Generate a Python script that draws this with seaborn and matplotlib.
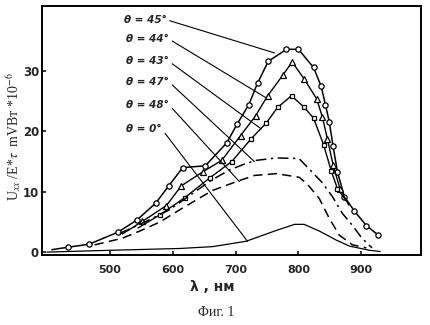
import matplotlib
matplotlib.use('Agg')
import matplotlib.pyplot as plt
import seaborn as sns

# ---------------- data ----------------
wl_45 = [408, 433, 467, 513, 543, 573, 594, 616, 652, 686, 703, 721, 735, 752,
         781, 800, 824, 836, 843, 849, 855, 862, 873, 889, 908, 927]
u_45 = [0.4, 0.8, 1.3, 3.3, 5.3, 8.1, 11.0, 14.0, 14.3, 18.1, 21.3, 24.4, 28.0, 31.6,
        33.6, 33.6, 30.6, 27.5, 24.4, 21.6, 17.6, 13.3, 9.2, 6.8, 4.4, 2.8]

wl_44 = [520, 552, 590, 614, 648, 678, 708, 732, 751, 775, 790, 809, 829, 838,
         846, 855, 866, 880]
u_44 = [3.0, 5.1, 7.7, 11.0, 13.3, 15.2, 19.3, 22.6, 25.9, 29.3, 31.5, 28.7, 25.4, 22.4,
        18.8, 14.5, 10.5, 7.8]

wl_43 = [545, 580, 619, 659, 694, 725, 749, 767, 789, 809, 824, 840, 852, 862, 876]
u_43 = [4.0, 6.2, 9.0, 12.3, 15.0, 18.8, 21.4, 24.0, 25.9, 24.0, 22.2, 17.8, 13.5, 10.5, 8.5]

wl_47 = [516, 552, 595, 622, 660, 690, 717, 733, 765, 801, 813, 838, 854, 870, 886, 901, 917]
u_47 = [3.1, 4.8, 7.0, 9.0, 11.8, 13.6, 14.7, 15.2, 15.6, 15.5, 14.2, 11.5, 9.2, 6.4, 4.4, 2.3, 0.7]

wl_48 = [476, 520, 548, 580, 611, 663, 702, 730, 765, 801, 813, 833, 849, 865, 886, 908]
u_48 = [1.2, 2.3, 3.5, 5.0, 7.0, 10.2, 11.7, 12.7, 13.0, 12.4, 11.4, 8.9, 5.6, 2.8, 1.2, 0.7]

wl_0 = [400, 500, 611, 663, 717, 765, 794, 809, 833, 860, 881, 913, 930]
u_0 = [0.0, 0.3, 0.6, 0.9, 1.8, 3.6, 4.6, 4.6, 3.5, 2.0, 1.0, 0.3, 0.1]

labels = ["θ = 45°", "θ = 44°", "θ = 43°", "θ = 47°", "θ = 48°", "θ = 0°"]
label_x = [522, 526, 526, 526, 526, 526]
label_y = [38.5, 35.3, 31.6, 28.2, 24.4, 20.4]
leader_x = [762, 748, 741, 730, 706, 719]
leader_y = [33.0, 25.6, 20.4, 15.0, 11.7, 1.8]

x_ticks = [500, 600, 700, 800, 900]
y_ticks = [0, 10, 20, 30]

# ---------------- style ----------------
sns.set_style('ticks')
plt.rcParams['font.family'] = ['DejaVu Sans']
plt.rcParams['mathtext.fontset'] = 'stix'

fig = plt.figure(figsize=(4.31, 3.25), dpi=100)
ax = fig.add_axes([0.097, 0.215, 0.880, 0.767])

mk = dict(markersize=3.8, markerfacecolor='white', markeredgecolor='black',
          markeredgewidth=0.9)

sns.lineplot(x=wl_45, y=u_45, ax=ax, color='black', lw=1.1, marker='o',
             markevery=list(range(1, len(wl_45))), **mk)
sns.lineplot(x=wl_44, y=u_44, ax=ax, color='black', lw=1.0, marker='^',
             markevery=list(range(1, len(wl_44) - 1)), **mk)
sns.lineplot(x=wl_43, y=u_43, ax=ax, color='black', lw=1.0, marker='s',
             markevery=list(range(1, len(wl_43) - 1)), **dict(mk, markersize=3.5))
sns.lineplot(x=wl_47, y=u_47, ax=ax, color='black', lw=1.1,
             linestyle=(0, (7, 3, 1.5, 3)))
sns.lineplot(x=wl_48, y=u_48, ax=ax, color='black', lw=1.1,
             linestyle=(0, (6, 3.5)))
sns.lineplot(x=wl_0, y=u_0, ax=ax, color='black', lw=0.9)

for lab, tx, ty, ex, ey in zip(labels, label_x, label_y, leader_x, leader_y):
    ax.annotate(lab, xy=(ex, ey), xytext=(tx, ty), ha='left', va='center',
                fontsize=7.5, fontweight='bold', fontstyle='italic',
                arrowprops=dict(arrowstyle='-', color='black', lw=0.8,
                                shrinkA=0, shrinkB=0, relpos=(1, 0.5)))

ax.set_xlim(392, 995)
ax.set_ylim(-0.5, 40.8)
ax.set_xticks(x_ticks)
ax.set_xticklabels([str(v) for v in x_ticks], fontweight='bold', fontsize=8)
ax.set_yticks(y_ticks)
ax.set_yticklabels([str(v) for v in y_ticks], fontweight='bold', fontsize=8.5)
ax.tick_params(axis='x', direction='in', length=3, width=1.3, pad=7)
ax.tick_params(axis='y', direction='in', length=3, width=1.3, pad=2)
for s in ax.spines.values():
    s.set_linewidth(1.4)
    s.set_color('black')
ax.set_xlabel('')
ax.set_ylabel('')

fig.text(212 / 431, 1 - 287 / 325, "λ , нм", fontsize=10, fontweight='bold',
         ha='center', va='center')
fig.text(14 / 431, 1 - 137 / 325, r"U$_{xx}$ /E*$\tau$  mVBт *10$^{-6}$",
         rotation=90, family='Liberation Serif', fontsize=10,
         ha='center', va='center')
fig.text(216 / 431, 1 - 313 / 325, "Фиг. 1", family='Liberation Serif',
         fontsize=10, ha='center', va='center')

fig.savefig('out.png', dpi=100)
